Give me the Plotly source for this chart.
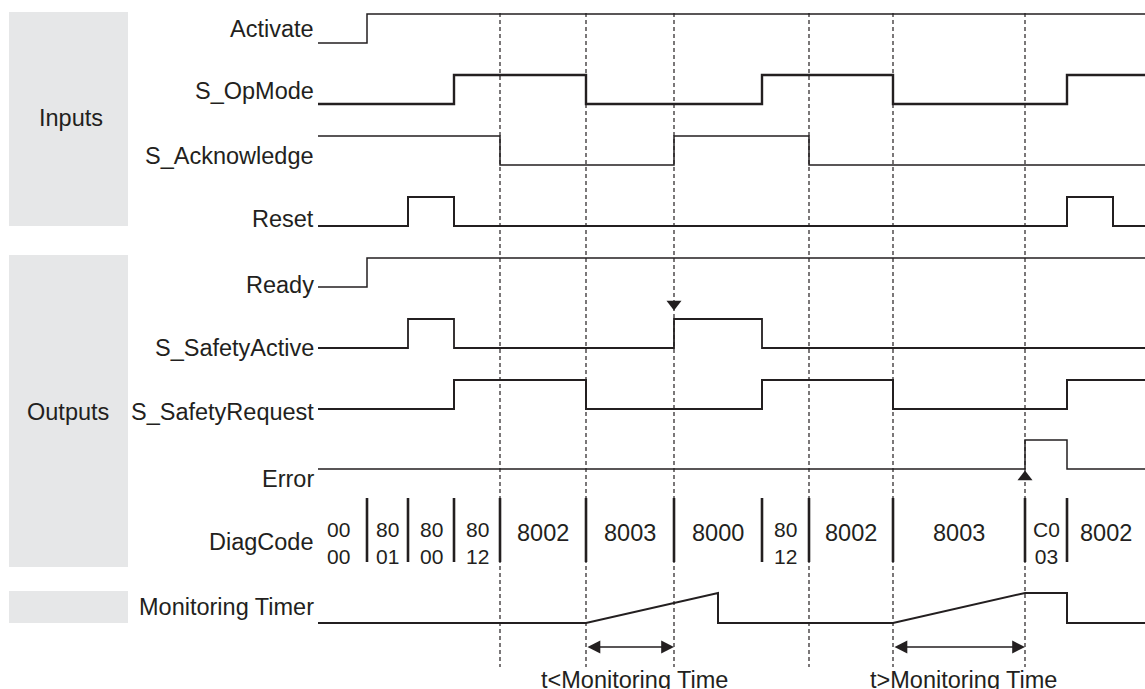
import plotly.graph_objects as go

W, H = 1145, 689
INK = "#231f20"
BOX = "#e6e7e8"
FONT = "Liberation Sans, Arial, sans-serif"
FS = 23.5

# ---------------- data (time units) ----------------
T_END = 82.7
signal_names = ["Activate", "S_OpMode", "S_Acknowledge", "Reset",
                "Ready", "S_SafetyActive", "S_SafetyRequest", "Error"]
signal_init = [0, 0, 1, 0, 0, 0, 0, 0]
signal_toggles = [
    [4.9],
    [13.6, 26.8, 44.4, 57.5, 74.9],
    [18.2, 35.6, 49.1],
    [9.0, 13.6, 74.9, 79.5],
    [4.9],
    [9.0, 13.6, 35.6, 44.4],
    [13.6, 26.8, 44.4, 57.5, 74.9],
    [70.7, 74.9],
]
diag_start = -0.8
diag_bounds = [4.9, 9.0, 13.6, 18.2, 26.8, 35.6, 44.4, 49.1, 57.5, 70.7, 74.9]
diag_codes = [["00", "00"], ["80", "01"], ["80", "00"], ["80", "12"], ["8002"],
              ["8003"], ["8000"], ["80", "12"], ["8002"], ["8003"],
              ["C0", "03"], ["8002"]]
timer_t = [0, 26.8, 40.0, 40.0, 57.5, 70.7, 74.9, 74.9, T_END]
timer_v = [0, 0, 1, 0, 0, 1, 1, 0, 0]
dashed_t = [18.2, 26.8, 35.6, 49.1, 57.5, 70.7]
safety_active_mark_t = 35.6
error_mark_t = 70.7
intervals = [(26.8, 35.6, "t&lt;Monitoring Time"), (57.5, 70.7, "t&gt;Monitoring Time")]

# ---------------- layout constants (pixels) ----------------
X0_PX, PX_PER_T = 318, 10.0
def px2t(px):
    return (px - X0_PX) / PX_PER_T

AMP = 29
row_base = [43, 104, 165, 226, 287, 348, 409, 469]
row_label_y = [29, 91, 156, 219, 285, 348, 412, 479]
row_width = [1.5, 2.4, 1.5, 2.0, 1.5, 1.8, 2.0, 1.5]
LABEL_X = px2t(316)

fig = go.Figure()

# dashed guides
for t in dashed_t:
    fig.add_shape(type="line", xref="x", yref="y", x0=t, x1=t, y0=13, y1=667,
                  line=dict(color=INK, width=1.2, dash="4px,3px"), layer="below")

# gray group boxes
for y0, y1 in [(12, 226), (255, 567), (591, 623)]:
    fig.add_shape(type="rect", xref="x", yref="y", x0=px2t(9), x1=px2t(128),
                  y0=y0, y1=y1, fillcolor=BOX, line=dict(width=0), layer="below")

# digital signals
for name, init, tog, base, w in zip(signal_names, signal_init, signal_toggles, row_base, row_width):
    xs, lv = [0], [init]
    cur = init
    for t in tog:
        cur = 1 - cur
        xs.append(t)
        lv.append(cur)
    xs.append(T_END)
    lv.append(cur)
    fig.add_trace(go.Scatter(x=xs, y=[base - v * AMP for v in lv], mode="lines",
                             line=dict(color=INK, width=w, shape="hv"),
                             hoverinfo="skip", showlegend=False))

# monitoring timer
TIMER_BASE = 623
fig.add_trace(go.Scatter(x=timer_t, y=[TIMER_BASE - v * 30 for v in timer_v], mode="lines",
                         line=dict(color=INK, width=2), hoverinfo="skip", showlegend=False))

# DiagCode separators
sx, sy = [], []
for t in diag_bounds:
    sx += [t, t, None]
    sy += [498, 562, None]
fig.add_trace(go.Scatter(x=sx, y=sy, mode="lines", line=dict(color=INK, width=2.6),
                         hoverinfo="skip", showlegend=False))

# triangle markers
fig.add_trace(go.Scatter(x=[safety_active_mark_t], y=[304], mode="markers",
                         marker=dict(symbol="triangle-down", size=13, color=INK),
                         hoverinfo="skip", showlegend=False))
fig.add_trace(go.Scatter(x=[error_mark_t], y=[477], mode="markers",
                         marker=dict(symbol="triangle-up", size=13, color=INK),
                         hoverinfo="skip", showlegend=False))

ann = []
# row labels
for name, yc in zip(signal_names, row_label_y):
    ann.append(dict(x=LABEL_X, y=yc, xref="x", yref="y", text=name, showarrow=False,
                    xanchor="right", yanchor="middle"))
ann.append(dict(x=LABEL_X, y=542, xref="x", yref="y", text="DiagCode", showarrow=False,
                xanchor="right", yanchor="middle"))
ann.append(dict(x=LABEL_X, y=607, xref="x", yref="y", text="Monitoring Timer", showarrow=False,
                xanchor="right", yanchor="middle"))
ann.append(dict(x=px2t(71), y=118, xref="x", yref="y", text="Inputs", showarrow=False,
                xanchor="center", yanchor="middle"))
ann.append(dict(x=px2t(68), y=412, xref="x", yref="y", text="Outputs", showarrow=False,
                xanchor="center", yanchor="middle"))

# DiagCode values
edges = [diag_start] + diag_bounds + [T_END]
for i, code in enumerate(diag_codes):
    xc = (edges[i] + edges[i + 1]) / 2
    if len(code) == 2:
        ann.append(dict(x=xc, y=543, xref="x", yref="y", text="<br>".join(code),
                        showarrow=False, xanchor="center", yanchor="middle",
                        font=dict(size=21)))
    else:
        ann.append(dict(x=xc, y=533, xref="x", yref="y", text=code[0], showarrow=False,
                        xanchor="center", yanchor="middle"))

# interval arrows and texts
for t0, t1, txt in intervals:
    ann.append(dict(x=t1, y=647, ax=t0, ay=647, xref="x", yref="y", axref="x", ayref="y",
                    text="", showarrow=True, arrowhead=2, arrowside="end+start",
                    arrowsize=1.6, arrowwidth=1.6, arrowcolor=INK, standoff=0, startstandoff=0))
    ann.append(dict(x=(t0 + t1) / 2 + 0.4, y=680, xref="x", yref="y", text=txt, showarrow=False,
                    xanchor="center", yanchor="middle"))

fig.update_layout(
    width=W, height=H, margin=dict(l=0, r=0, t=0, b=0),
    paper_bgcolor="white", plot_bgcolor="white",
    font=dict(family=FONT, size=FS, color=INK),
    xaxis=dict(range=[px2t(0), px2t(W)], visible=False, fixedrange=True),
    yaxis=dict(range=[H, 0], visible=False, fixedrange=True),
    annotations=ann, showlegend=False, hovermode=False,
)

fig.write_html("out.html", config={"displayModeBar": False, "staticPlot": True},
               post_script="document.body.style.margin='0';document.body.style.padding='0';"
                           "document.body.style.overflow='hidden';")
